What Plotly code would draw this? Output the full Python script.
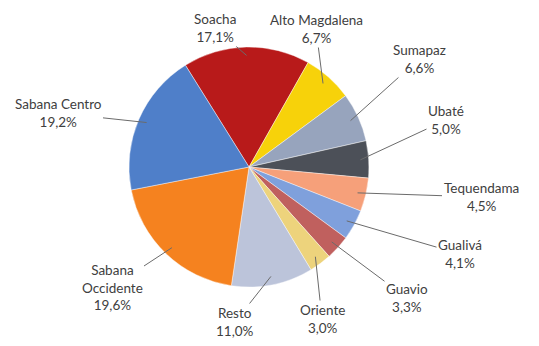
import math
import plotly.graph_objects as go

labels = ["Soacha", "Alto Magdalena", "Sumapaz", "Ubaté", "Tequendama", "Gualivá",
          "Guavio", "Oriente", "Resto", "Sabana<br>Occidente", "Sabana Centro"]
values = [17.1, 6.7, 6.6, 5.0, 4.5, 4.1, 3.3, 3.0, 11.0, 19.6, 19.2]
colors = ["#B81A1A", "#F7D20A", "#97A4BD", "#4C5058", "#F6A07A", "#7FA0DC",
          "#C0605E", "#EDD37C", "#BCC4DA", "#F5821F", "#4F7FC9"]

# label block centres in pixels (layout)
label_pos = [(215, 28), (316, 29), (419, 59), (446, 120), (481, 197), (460, 254),
             (407, 298), (322, 319), (235, 322), (112, 287), (58, 113)]

W, H = 539, 346
cx, cy, R = 249, 167, 120
rotation = -32

fig = go.Figure(go.Pie(
    labels=labels, values=values, sort=False, direction="clockwise",
    rotation=rotation, textinfo="none", hoverinfo="label+percent",
    marker=dict(colors=colors, line=dict(color="rgba(255,255,255,0.6)", width=0.7)),
    domain=dict(x=[(cx - R) / W, (cx + R) / W], y=[(H - cy - R) / H, (H - cy + R) / H]),
    showlegend=False,
))

total = sum(values)
ann = []
acc = 0.0
for lab, v, (lx, ly) in zip(labels, values, label_pos):
    mid = rotation + (acc + v / 2) / total * 360
    acc += v
    th = math.radians(mid)
    tx = cx + 0.93 * R * math.sin(th)
    ty = cy - 0.93 * R * math.cos(th)
    txt = f"{lab}<br>{v:.1f}%".replace(".", ",")
    ann.append(dict(x=tx / W, y=1 - ty / H, xref="paper", yref="paper",
                    ax=lx - tx, ay=ly - ty, text=txt, showarrow=True,
                    arrowhead=0, arrowwidth=1, arrowcolor="#6b6b6b",
                    font=dict(family="Lato, Open Sans, sans-serif", size=13.5, color="#404040"),
                    align="center"))

fig.update_layout(width=W, height=H, margin=dict(l=0, r=0, t=0, b=0),
                  paper_bgcolor="white", plot_bgcolor="white", annotations=ann)
fig.write_html("out.html", config={"displayModeBar": False},
               post_script="document.body.style.margin='0';document.body.style.overflow='hidden';")
